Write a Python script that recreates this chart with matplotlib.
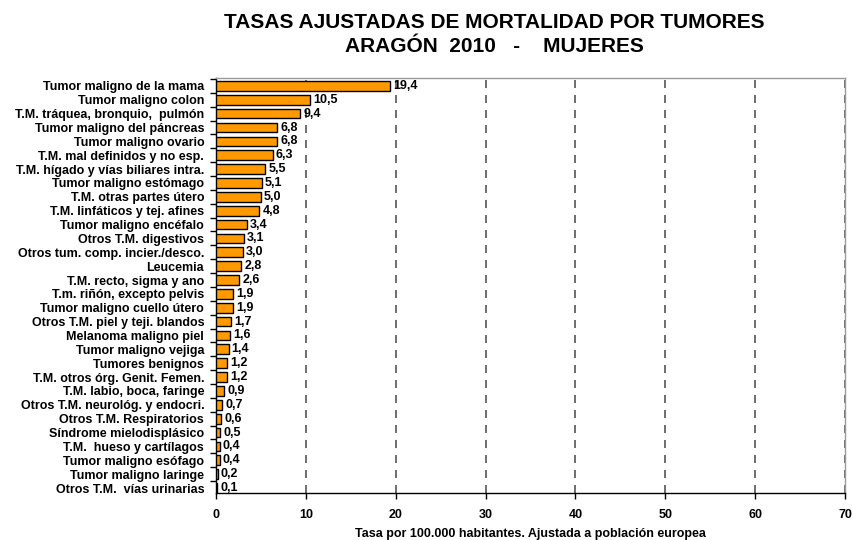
import matplotlib
matplotlib.use("Agg")
import matplotlib.pyplot as plt
from matplotlib.ticker import FixedLocator

plt.rcParams['font.family'] = ['Liberation Sans', 'DejaVu Sans']

categories = [
    "Tumor maligno de la mama", "Tumor maligno colon", "T.M. tráquea, bronquio,  pulmón",
    "Tumor maligno del páncreas", "Tumor maligno ovario", "T.M. mal definidos y no esp.",
    "T.M. hígado y vías biliares intra.", "Tumor maligno estómago", "T.M. otras partes útero",
    "T.M. linfáticos y tej. afines", "Tumor maligno encéfalo", "Otros T.M. digestivos",
    "Otros tum. comp. incier./desco.", "Leucemia", "T.M. recto, sigma y ano",
    "T.m. riñón, excepto pelvis", "Tumor maligno cuello útero", "Otros T.M. piel y teji. blandos",
    "Melanoma maligno piel", "Tumor maligno vejiga", "Tumores benignos",
    "T.M. otros órg. Genit. Femen.", "T.M. labio, boca, faringe", "Otros T.M. neurológ. y endocri.",
    "Otros T.M. Respiratorios", "Síndrome mielodisplásico", "T.M.  hueso y cartílagos",
    "Tumor maligno esófago", "Tumor maligno laringe", "Otros T.M.  vías urinarias",
]
values = [19.4, 10.5, 9.4, 6.8, 6.8, 6.3, 5.5, 5.1, 5.0, 4.8, 3.4, 3.1, 3.0, 2.8, 2.6,
          1.9, 1.9, 1.7, 1.6, 1.4, 1.2, 1.2, 0.9, 0.7, 0.6, 0.5, 0.4, 0.4, 0.2, 0.1]
xticks = [0, 10, 20, 30, 40, 50, 60, 70]

fig = plt.figure(figsize=(8.52, 5.40), dpi=100)
ax = fig.add_axes([216/852, 1-493/540, (845-216)/852, (493-78)/540])

ypos = list(range(len(categories)))
ax.barh(ypos, values, height=0.7, color='#FF9900', edgecolor='black', linewidth=1.0, zorder=3)
for y, v in zip(ypos, values):
    ax.text(v + 0.35, y, f"{v:.1f}".replace('.', ','), va='center', ha='left',
            fontsize=9, fontweight='bold', zorder=4)

ax.set_xlim(0, 70)
ax.set_ylim(len(categories) - 0.64, -0.57)
ax.set_xticks(xticks)
ax.set_xticklabels([str(t) for t in xticks], fontsize=9, fontweight='bold')
ax.set_yticks(ypos)
ax.set_yticklabels(categories, fontsize=9, fontweight='bold')
ax.tick_params(axis='y', which='major', length=0, pad=8.5)
ax.yaxis.set_minor_locator(FixedLocator([i - 0.5 for i in range(len(categories) + 1)]))
ax.tick_params(axis='y', which='minor', length=4.3, width=1)
ax.tick_params(axis='x', which='major', length=4, width=1, direction='out', pad=7.5)

for x in xticks[1:]:
    ax.axvline(x, color='#555555', linestyle=(0, (4.8, 4.2)), linewidth=1.2, zorder=1)

for s in ['top', 'right']:
    ax.spines[s].set_color('#9a9a9a')
    ax.spines[s].set_linewidth(1.0)
ax.spines['left'].set_linewidth(1.0)
ax.spines['bottom'].set_linewidth(1.0)

ax.set_xlabel("Tasa por 100.000 habitantes. Ajustada a población europea",
              fontsize=9, fontweight='bold', labelpad=5)

fig.text(0.58, 1-22/540, "TASAS AJUSTADAS DE MORTALIDAD POR TUMORES", ha='center', va='center',
         fontsize=15, fontweight='bold')
fig.text(0.58, 1-47/540, "ARAGÓN  2010   -    MUJERES", ha='center', va='center',
         fontsize=15, fontweight='bold')

fig.savefig("out.png", dpi=100)
